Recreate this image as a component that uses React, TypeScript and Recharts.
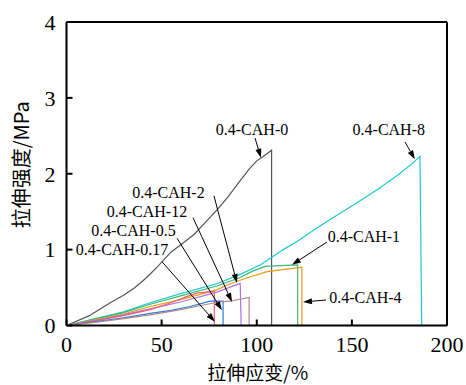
import { LineChart, Line, XAxis, YAxis, ReferenceLine, ReferenceDot } from "recharts";

type Pt = { x: number; y: number };
const pts = (arr: number[][]): Pt[] => arr.map(([x, y]) => ({ x, y }));

// stress-strain curves (strain %, strength MPa)
const cah0 = pts([[0, 0], [12, 0.13], [23, 0.3], [30, 0.4], [36, 0.5], [42, 0.63], [48, 0.78], [55, 0.97], [62, 1.1], [67, 1.2], [73, 1.36], [79, 1.52], [85, 1.7], [91, 1.9], [96, 2.06], [100, 2.17], [103, 2.22], [107.8, 2.31], [107.8, 0]]);
const cah8 = pts([[0, 0], [15, 0.09], [30, 0.18], [44, 0.3], [60, 0.42], [79, 0.55], [91, 0.67], [102, 0.8], [114, 1.0], [122, 1.12], [130, 1.26], [140, 1.42], [147, 1.53], [156, 1.67], [165, 1.82], [174, 1.98], [182, 2.14], [185.8, 2.23], [186.7, 0]]);
const cah1 = pts([[0, 0], [15, 0.085], [30, 0.17], [44, 0.28], [60, 0.39], [79, 0.52], [91, 0.63], [98, 0.72], [104.5, 0.78], [112, 0.79], [121.5, 0.8], [121.5, 0]]);
const cah4 = pts([[0, 0], [15, 0.075], [30, 0.15], [44, 0.25], [60, 0.34], [79, 0.47], [86, 0.55], [95, 0.63], [105.5, 0.71], [115, 0.74], [123.7, 0.77], [123.7, 0]]);
const cah2 = pts([[0, 0], [15, 0.065], [30, 0.14], [44, 0.22], [60, 0.31], [79, 0.44], [91.3, 0.555], [91.8, 0]]);
const cah017 = pts([[0, 0], [15, 0.065], [30, 0.13], [44, 0.21], [55, 0.3], [63, 0.38], [69, 0.43], [77.7, 0.45], [77.7, 0]]);
const cah05 = pts([[0, 0], [15, 0.05], [30, 0.1], [44, 0.16], [55, 0.2], [65, 0.25], [75.5, 0.32], [82.3, 0.32], [82.3, 0]]);
const cah12 = pts([[0, 0], [15, 0.04], [30, 0.09], [44, 0.14], [60, 0.21], [72, 0.27], [80, 0.31], [86, 0.32], [96, 0.37], [96, 0]]);

const series = [
  { name: "0.4-CAH-0", data: cah0, color: "#555555" },
  { name: "0.4-CAH-8", data: cah8, color: "#1ec8d2" },
  { name: "0.4-CAH-1", data: cah1, color: "#3cb878" },
  { name: "0.4-CAH-4", data: cah4, color: "#e0a010" },
  { name: "0.4-CAH-2", data: cah2, color: "#b070e8" },
  { name: "0.4-CAH-0.17", data: cah017, color: "#f06070" },
  { name: "0.4-CAH-0.5", data: cah05, color: "#2a7de1" },
  { name: "0.4-CAH-12", data: cah12, color: "#b08888" },
];

const xTicks = [0, 50, 100, 150, 200];
const yTicks = [0, 1, 2, 3, 4];

// annotations: label centre, arrow start, arrow tip (data units)
const notes = [
  { text: "0.4-CAH-0", lx: 97.5, ly: 2.59, x1: 99.1, y1: 2.47, x2: 102.2, y2: 2.21 },
  { text: "0.4-CAH-8", lx: 169.4, ly: 2.59, x1: 177.9, y1: 2.42, x2: 183.1, y2: 2.19 },
  { text: "0.4-CAH-1", lx: 156.3, ly: 1.17, x1: 136.9, y1: 1.1, x2: 118.5, y2: 0.8 },
  { text: "0.4-CAH-4", lx: 157.1, ly: 0.376, x1: 136.4, y1: 0.336, x2: 124.3, y2: 0.31 },
  { text: "0.4-CAH-2", lx: 53.6, ly: 1.76, x1: 77.5, y1: 1.71, x2: 89.6, y2: 0.56 },
  { text: "0.4-CAH-12", lx: 42.3, ly: 1.5, x1: 66.5, y1: 1.42, x2: 87, y2: 0.31 },
  { text: "0.4-CAH-0.5", lx: 35.2, ly: 1.25, x1: 58.1, y1: 1.15, x2: 81.7, y2: 0.2 },
  { text: "0.4-CAH-0.17", lx: 29.2, ly: 1.0, x1: 50.2, y1: 0.84, x2: 78, y2: 0.05 },
];

const serif = "'Liberation Serif', 'Times New Roman', serif";
const cjk = "'Noto Sans CJK SC', sans-serif";

const Arrow = (props: any) => {
  const { x1, y1, x2, y2 } = props;
  if ([x1, y1, x2, y2].some((v) => typeof v !== "number")) return null;
  const a = Math.atan2(y2 - y1, x2 - x1);
  const len = 9;
  const w = 3;
  const bx = x2 - len * Math.cos(a);
  const by = y2 - len * Math.sin(a);
  const p1 = `${bx + w * Math.sin(a)},${by - w * Math.cos(a)}`;
  const p2 = `${bx - w * Math.sin(a)},${by + w * Math.cos(a)}`;
  return (
    <g>
      <line x1={x1} y1={y1} x2={bx} y2={by} stroke="#000" strokeWidth={1} />
      <polygon points={`${x2},${y2} ${p1} ${p2}`} fill="#000" />
    </g>
  );
};

const YLabel = ({ viewBox }: any) => {
  const x = viewBox.x + 20;
  const y = viewBox.y + viewBox.height / 2 - 9;
  return (
    <text x={x} y={y} transform={`rotate(-90, ${x}, ${y})`} textAnchor="middle" dominantBaseline="central" fontSize={20} fontFamily={cjk} fill="#000">
      拉伸强度/MPa
    </text>
  );
};

const XLabel = ({ viewBox }: any) => {
  const x = viewBox.x + viewBox.width / 2 + 1;
  return (
    <text x={x} y={371} textAnchor="middle" dominantBaseline="central" fontSize={19} fontFamily={cjk} fill="#000">
      拉伸应变/%
    </text>
  );
};

export default function App() {
  return (
    <div style={{ position: "absolute", left: 0, top: 0, background: "#fff" }}>
      <LineChart width={466} height={385} margin={{ top: 22, right: 19, bottom: 0, left: 0 }}>
        <XAxis
          type="number"
          dataKey="x"
          domain={[0, 200]}
          ticks={xTicks}
          allowDataOverflow
          height={59.5}
          tickSize={-6}
          tickMargin={17}
          axisLine={{ stroke: "#000", strokeWidth: 2 }}
          tickLine={{ stroke: "#000", strokeWidth: 2 }}
          tick={{ fill: "#000", fontSize: 22, fontFamily: serif }}
          label={<XLabel />}
        />
        <YAxis
          type="number"
          dataKey="y"
          domain={[0, 4]}
          ticks={yTicks}
          allowDataOverflow
          width={66.5}
          tickSize={-6}
          tickMargin={17}
          axisLine={{ stroke: "#000", strokeWidth: 2 }}
          tickLine={{ stroke: "#000", strokeWidth: 2 }}
          tick={{ fill: "#000", fontSize: 22, fontFamily: serif }}
          label={<YLabel />}
        />
        <ReferenceLine y={4} stroke="#000" strokeWidth={2} ifOverflow="visible" />
        <ReferenceLine x={200} stroke="#000" strokeWidth={2} ifOverflow="visible" />
        {series.map((s) => (
          <Line
            key={s.name}
            data={s.data}
            dataKey="y"
            type="linear"
            stroke={s.color}
            strokeWidth={1.2}
            dot={false}
            isAnimationActive={false}
          />
        ))}
        {notes.map((n) => (
          <ReferenceLine
            key={`a-${n.text}`}
            segment={[{ x: n.x1, y: n.y1 }, { x: n.x2, y: n.y2 }]}
            ifOverflow="visible"
            shape={<Arrow />}
          />
        ))}
        {notes.map((n) => (
          <ReferenceDot
            key={`t-${n.text}`}
            x={n.lx}
            y={n.ly}
            r={0}
            fill="none"
            stroke="none"
            ifOverflow="visible"
            label={{ value: n.text, position: "center", fill: "#000", fontSize: 16, fontFamily: serif }}
          />
        ))}
      </LineChart>
    </div>
  );
}
